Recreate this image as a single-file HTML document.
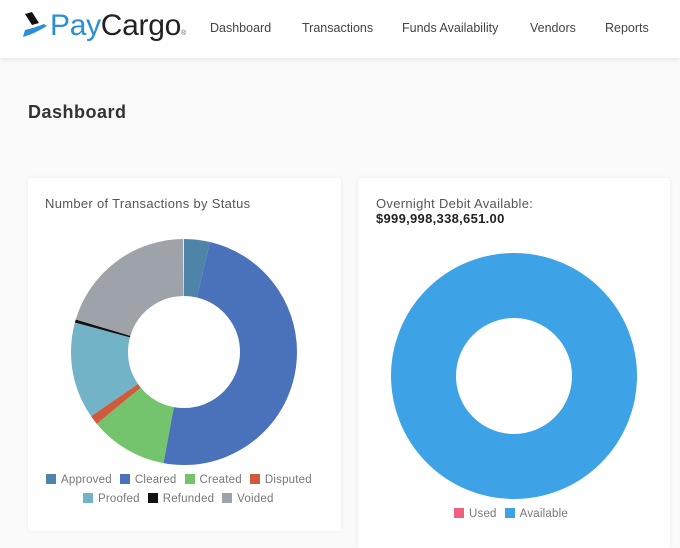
<!DOCTYPE html>
<html><head><meta charset="utf-8"><style>
body{margin:0;width:680px;height:536px;background:#fafafa;font-family:"Liberation Sans",sans-serif;overflow:hidden;position:relative}
.hdr{position:absolute;left:0;top:0;width:680px;height:58px;background:#fff;box-shadow:0 2px 6px rgba(0,0,0,0.08)}
.logo{position:absolute;left:50px;top:9px;font-size:30px;letter-spacing:-0.3px}
.nav{position:absolute;top:21px;font-size:12.5px;color:#444}
h1{position:absolute;left:28px;top:102px;margin:0;font-size:18px;letter-spacing:0.5px;color:#333;font-weight:bold}
.card{position:absolute;background:#fff;box-shadow:0 0 4px rgba(0,0,0,0.07);border-radius:3px}
.t{position:absolute;font-size:13px;letter-spacing:0.3px;color:#555}
.lg{position:absolute;font-size:11.5px;letter-spacing:0.2px;color:#777;white-space:nowrap}
.lg i{display:inline-block;width:10px;height:10px;vertical-align:-1px;margin-right:5px}
.lg span{margin-right:8px}
</style></head><body>
<div class="hdr">
<svg style="position:absolute;left:22px;top:12px" width="26" height="28"><path d="M3 2 L10 0 L17 11 L10 13 Z" fill="#111"/><path d="M1 25 Q12 22 25 14 L22 12 Q12 16 3 18 Z" fill="#2a8fd6"/></svg>
<div class="logo"><span style="color:#2a8fd6">Pay</span><span style="color:#222">Cargo</span><span style="font-size:7px;color:#555">®</span></div>
<div class="nav" style="left:210px">Dashboard</div>
<div class="nav" style="left:302px">Transactions</div>
<div class="nav" style="left:402px">Funds Availability</div>
<div class="nav" style="left:530px">Vendors</div>
<div class="nav" style="left:605px">Reports</div>
</div>
<h1>Dashboard</h1>
<div class="card" style="left:28px;top:178px;width:313px;height:353px"></div>
<div class="card" style="left:358px;top:178px;width:312px;height:370px"></div>
<div class="t" style="left:45px;top:196px">Number of Transactions by Status</div>
<div class="t" style="left:376px;top:196px">Overnight Debit Available:<br><b style="color:#222">$999,998,338,651.00</b></div>
<svg style="position:absolute;left:0;top:0" width="680" height="536">
<g transform="translate(184,352) rotate(-90)" fill="none" stroke-width="57">
<circle r="84.5" pathLength="360" stroke="#4e84a8" stroke-dasharray="13.3 400" stroke-dashoffset="0"/>
<circle r="84.5" pathLength="360" stroke="#4a72bb" stroke-dasharray="177.4 400" stroke-dashoffset="-13.3"/>
<circle r="84.5" pathLength="360" stroke="#74c46e" stroke-dasharray="40.1 400" stroke-dashoffset="-190.7"/>
<circle r="84.5" pathLength="360" stroke="#cf5a3c" stroke-dasharray="4.8 400" stroke-dashoffset="-230.8"/>
<circle r="84.5" pathLength="360" stroke="#72b3c8" stroke-dasharray="49.9 400" stroke-dashoffset="-235.6"/>
<circle r="84.5" pathLength="360" stroke="#111" stroke-dasharray="1.6 400" stroke-dashoffset="-285.5"/>
<circle r="84.5" pathLength="360" stroke="#9da3a8" stroke-dasharray="72.9 400" stroke-dashoffset="-287.1"/>
</g>
<circle cx="514" cy="376" r="90.5" fill="none" stroke="#3ea3e6" stroke-width="65"/>
</svg>
<div class="lg" style="left:46px;top:474px"><i style="background:#4e84a8"></i><span>Approved</span><i style="background:#4a72bb"></i><span>Cleared</span><i style="background:#74c46e"></i><span>Created</span><i style="background:#cf5a3c"></i><span>Disputed</span></div>
<div class="lg" style="left:83px;top:493px"><i style="background:#72b3c8"></i><span>Proofed</span><i style="background:#111"></i><span>Refunded</span><i style="background:#9da3a8"></i><span>Voided</span></div>
<div class="lg" style="left:454px;top:508px"><i style="background:#f06080"></i><span>Used</span><i style="background:#3ea3e6"></i><span>Available</span></div>
</body></html>
